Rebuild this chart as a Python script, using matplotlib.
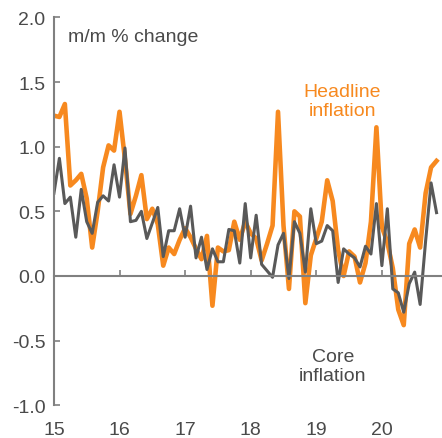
import numpy as np
import matplotlib
matplotlib.use('Agg')
import matplotlib.pyplot as plt

plt.rcParams['font.family'] = ['Liberation Sans', 'DejaVu Sans']

# monthly m/m % change, Jan 2015 - Nov 2020
headline = [1.24, 1.23, 1.33, 0.70, 0.74, 0.79, 0.60, 0.22, 0.50, 0.84, 1.01, 0.97,
            1.27, 0.90, 0.48, 0.62, 0.78, 0.44, 0.52, 0.40, 0.08, 0.22, 0.17, 0.28,
            0.37, 0.30, 0.21, 0.13, 0.31, -0.23, 0.22, 0.19, 0.20, 0.42, 0.28, 0.42,
            0.33, 0.29, 0.12, 0.25, 0.39, 1.27, 0.39, -0.10, 0.50, 0.46, -0.21, 0.16,
            0.29, 0.42, 0.74, 0.58, 0.20, 0.00, 0.19, 0.15, -0.05, 0.10, 0.42, 1.15,
            0.38, 0.26, 0.06, -0.26, -0.38, 0.25, 0.36, 0.22, 0.64, 0.84, 0.89]
core = [0.64, 0.91, 0.56, 0.61, 0.30, 0.67, 0.42, 0.33, 0.57, 0.62, 0.58, 0.86,
        0.61, 0.99, 0.42, 0.43, 0.50, 0.29, 0.41, 0.53, 0.15, 0.35, 0.35, 0.52,
        0.30, 0.54, 0.14, 0.30, 0.05, 0.21, 0.11, 0.11, 0.36, 0.35, 0.10, 0.56,
        0.14, 0.47, 0.09, 0.04, -0.01, 0.24, 0.33, -0.02, 0.42, 0.33, 0.03, 0.52,
        0.25, 0.27, 0.39, 0.35, -0.05, 0.21, 0.17, 0.14, 0.07, 0.23, 0.17, 0.56,
        0.08, 0.52, -0.10, -0.13, -0.28, -0.06, 0.03, -0.22, 0.27, 0.72, 0.49]
year_labels = ['15', '16', '17', '18', '19', '20']

orange = '#F7891F'
dark = '#595959'
axis_col = '#808080'
txt = '#4a4a4a'

x = np.arange(len(headline))

fig = plt.figure(figsize=(4.42, 4.39), dpi=100)
ax = fig.add_axes([0.122, 0.0745, 0.878, 0.8836])

ax.plot(x, headline, color=orange, lw=3.3, solid_joinstyle='round')
ax.plot(x, core, color=dark, lw=2.2, solid_joinstyle='round')

ax.set_xlim(0, 71)
ax.set_ylim(-1.0, 2.0)
ax.set_yticks([-1.0, -0.5, 0.0, 0.5, 1.0, 1.5, 2.0])
ax.set_yticklabels(['-1.0', '-0.5', '0.0', '0.5', '1.0', '1.5', '2.0'])

for s in ['top', 'right']:
    ax.spines[s].set_visible(False)
ax.spines['left'].set_color(axis_col)
ax.spines['left'].set_linewidth(1.5)
ax.spines['bottom'].set_position(('data', 0))
ax.spines['bottom'].set_color(axis_col)
ax.spines['bottom'].set_linewidth(1.5)

ax.set_xticks(np.arange(0, 72, 12))
ax.tick_params(axis='x', direction='in', length=4, width=1.2, color=axis_col,
               labelbottom=False)
ax.tick_params(axis='y', direction='in', length=4, width=1.2, color=axis_col,
               labelsize=14, labelcolor=txt, pad=6)

sec = ax.secondary_xaxis('bottom')
sec.set_xticks(np.arange(0, 72, 12))
sec.set_xticklabels(year_labels)
sec.spines['bottom'].set_visible(False)
sec.tick_params(length=0, labelsize=14, labelcolor=txt, pad=11)

fig.text(0.154, 0.915, 'm/m % change', fontsize=14, color=txt, va='center')
fig.text(0.774, 0.767, 'Headline\ninflation', fontsize=14, color=orange,
         ha='center', va='center', linespacing=1.15)
fig.text(0.753, 0.164, 'Core\ninflation', fontsize=14, color=txt,
         ha='center', va='center', linespacing=1.15)

fig.savefig('out.png', dpi=100)
